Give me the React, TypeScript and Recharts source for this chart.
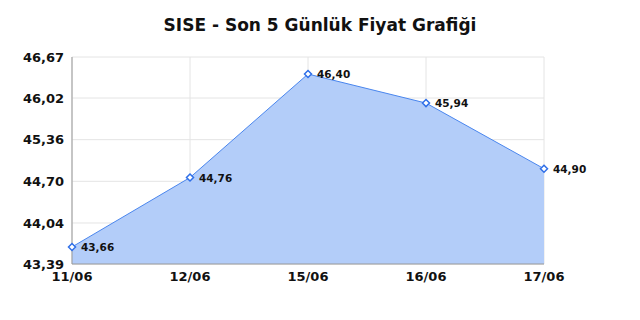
import React from 'react';
import { AreaChart, Area, XAxis, YAxis, CartesianGrid, LabelList } from 'recharts';

const categories = ['11/06', '12/06', '15/06', '16/06', '17/06'];
const prices = [43.66, 44.76, 46.4, 45.94, 44.9];
const yTicks = [43.39, 44.04, 44.7, 45.36, 46.02, 46.67];

const data = categories.map((c, i) => ({ date: c, price: prices[i] }));
const fmt = (v: number) => v.toFixed(2).replace('.', ',');
const FONT = '"DejaVu Sans", sans-serif';

const Diamond = (props: any) => {
  const { cx, cy } = props;
  if (cx == null || cy == null) return null;
  const r = 3.5;
  return (
    <path
      d={`M${cx},${cy - r} L${cx + r},${cy} L${cx},${cy + r} L${cx - r},${cy} Z`}
      fill="#ffffff"
      stroke="#2f6fe8"
      strokeWidth={1.5}
    />
  );
};

const renderLabel = (props: any) => {
  const { x, y, value } = props;
  return (
    <text x={x + 9} y={y} dy={4} fontSize={10.5} fontWeight="bold" fill="#111" fontFamily={FONT}>
      {fmt(value)}
    </text>
  );
};

export default function App() {
  return (
    <div style={{ position: 'absolute', left: 0, top: 0, width: 640, height: 320, background: '#fff' }}>
      <div
        style={{
          position: 'absolute',
          left: 0,
          top: 14,
          width: 640,
          textAlign: 'center',
          fontFamily: FONT,
          fontWeight: 'bold',
          fontSize: 17,
          color: '#111',
          lineHeight: '22px',
        }}
      >
        SISE - Son 5 Günlük Fiyat Grafiği
      </div>
      <AreaChart
        width={640}
        height={320}
        data={data}
        margin={{ top: 57, right: 96, bottom: 26, left: 0 }}
      >
        <CartesianGrid stroke="#e4e4e4" />
        <XAxis
          dataKey="date"
          tickLine={false}
          axisLine={{ stroke: '#999' }}
          tickMargin={2}
          height={30}
          tick={{ fontSize: 13, fontWeight: 'bold', fill: '#111', fontFamily: FONT }}
          interval={0}
        />
        <YAxis
          type="number"
          domain={[43.39, 46.67]}
          ticks={yTicks}
          tickFormatter={fmt}
          tickLine={false}
          axisLine={{ stroke: '#999' }}
          width={72}
          tickMargin={2}
          tick={{ fontSize: 13, fontWeight: 'bold', fill: '#111', fontFamily: FONT }}
          allowDataOverflow
        />
        <Area
          type="linear"
          dataKey="price"
          stroke="#4a86ee"
          strokeWidth={1}
          fill="#b3cdf9"
          fillOpacity={1}
          dot={<Diamond />}
          activeDot={false}
          isAnimationActive={false}
        >
          <LabelList dataKey="price" content={renderLabel} />
        </Area>
      </AreaChart>
    </div>
  );
}
